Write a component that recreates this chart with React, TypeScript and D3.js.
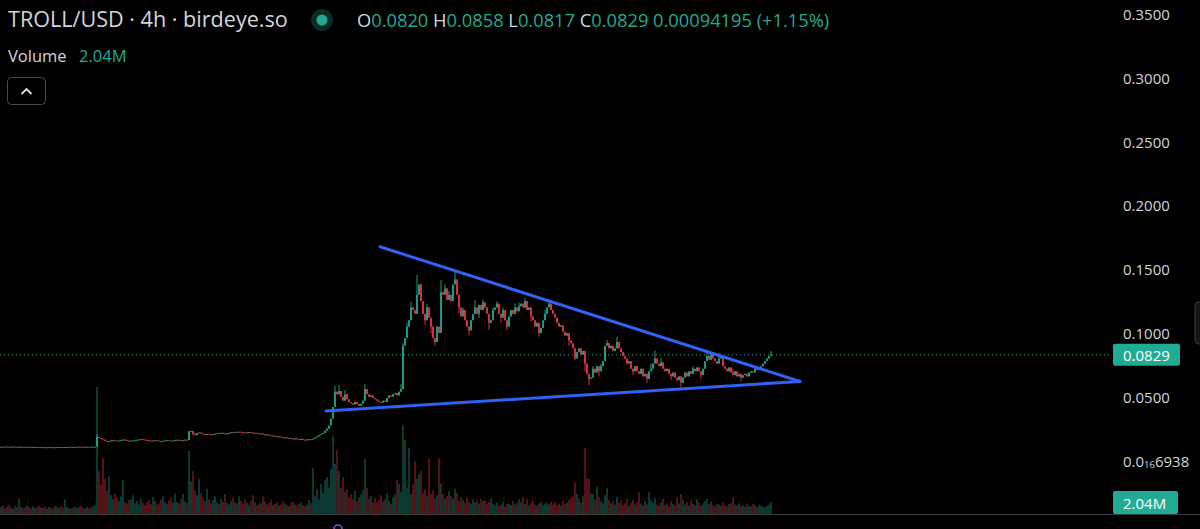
import * as d3 from "d3";

// closing prices, in units of 0.0001 USD, one per 4h candle (oldest first)
const closes = [
  // flat start
  109, 108, 110, 109, 108, 109, 110, 108, 107, 108, 109, 108, 107, 108, 107, 106, 107, 108, 106, 105,
  106, 105, 104, 105, 106, 105, 104, 105, 106, 107, 106, 105, 106, 107, 108, 107, 106, 107, 108, 109,
  108, 107, 108, 109, 108, 107, 108, 110,
  // first step up
  185, 178, 172, 165, 155, 150, 152, 158, 160, 157, 155, 158, 162, 165, 160, 157, 154, 156, 158, 160,
  163, 166, 168, 165, 162, 160, 157, 155, 158, 160, 157, 154, 152, 155, 158, 160, 157, 155, 158, 161,
  163, 160, 158, 161, 164, 162,
  // second step
  228, 232, 210, 200, 215, 220, 212, 208, 205, 210, 206, 203, 208, 212, 215, 212, 218, 214, 210, 215,
  218, 222, 220, 225, 222, 226, 224, 220, 218, 222, 224, 220, 216, 218, 214, 210,
  // drift down
  212, 206, 200, 204, 198, 194, 196, 190, 186, 190, 184, 180, 182, 176, 178, 172, 170, 174, 168, 166,
  170, 164, 162, 166, 168, 165,
  // breakout
  172, 180, 190, 200, 208, 215, 235, 250, 275, 330, 420, 540,
  // base near 0.05
  520, 545, 500, 470, 520, 480, 460, 450, 440, 460, 445, 430, 445, 470, 560, 520, 500, 510, 490, 480,
  470, 460, 455, 470, 460, 490, 510, 500, 520, 530, 510, 540, 560,
  // pump to the top
  900, 960, 1050, 1100, 1200, 1180, 1150, 1300, 1380, 1250, 1150, 1100, 1200, 1120, 1050, 960, 930, 1050, 1000, 1320,
  1300, 1350, 1260, 1300, 1250, 1380, 1420, 1300, 1200, 1130, 1180, 1100, 1050, 1020, 1100, 1150, 1200, 1150, 1220, 1180,
  1240,
  // range at the top
  1200, 1150, 1080, 1100, 1180, 1200, 1230, 1150, 1120, 1180, 1100, 1050, 1130, 1180, 1150, 1200, 1170, 1210, 1230, 1200,
  1250, 1180, 1200, 1130, 1100, 1050, 1080, 1000, 1040, 1100, 1150, 1200, 1230, 1180,
  // slide and consolidation
  1150, 1120, 1080, 1050, 1060, 1010, 980, 1000, 940, 920,
  880, 800, 850, 880, 830, 860, 760, 680, 640, 650,
  720, 690, 740, 700, 740, 780, 900, 920, 880, 900,
  860, 880, 930, 880, 850, 820, 800, 760, 780, 720,
  700, 740, 700, 680, 720, 660, 680, 640, 700, 720,
  760, 800, 760, 740, 770, 720, 700, 720, 680, 660,
  690, 650, 630, 660, 610, 650, 690, 660, 700, 680,
  720, 700, 730, 700, 670, 720, 780, 820, 790, 840,
  800, 780, 760, 800, 820, 740, 720, 700, 730, 690,
  670, 700, 660, 680, 650, 670, 680, 660, 690, 700,
  690, 720, 710, 730, 740, 760, 780, 800, 820, 829,
];
const firstOpen = 108;

// visible wicks: [candle index, price x1e-4]
const wickHighs = [
  [48, 205], [94, 236], [167, 585], [169, 592], [172, 553], [182, 600], [200, 600], [201, 920],
  [203, 1080], [205, 1245], [208, 1455], [210, 1390], [213, 1230], [220, 1415], [222, 1380],
  [224, 1330], [227, 1480], [231, 1200], [237, 1258], [241, 1260], [246, 1200], [248, 1250],
  [251, 1200], [257, 1230], [259, 1240], [262, 1275], [272, 1180], [274, 1250], [296, 740],
  [300, 760], [303, 945], [308, 971], [313, 800], [325, 760], [327, 861], [330, 800], [346, 740],
  [353, 853], [355, 850], [359, 840], [366, 720], [385, 858],
];
const wickLows = [
  [53, 148], [96, 198], [212, 1060], [215, 1000], [217, 900], [229, 1150], [234, 983],
  [239, 1120], [244, 1023], [250, 1080], [253, 1023], [265, 1090], [269, 971], [284, 900],
  [287, 788], [292, 700], [294, 592], [299, 660], [316, 670], [323, 610], [335, 630],
  [340, 574], [350, 640], [370, 620], [385, 817],
];

// volume per candle, millions
const volumes = [
  1.2, 1.5, 1.0, 1.3, 1.6, 1.1, 0.9, 1.4, 1.2, 2.6, 1.3, 1.0, 1.1, 1.5, 1.2, 0.9, 1.3, 1.0, 1.2, 1.4,
  1.1, 1.0, 1.3, 0.9, 1.2, 1.1, 1.0, 1.4, 1.2, 1.0, 1.3, 1.1, 2.5, 1.2, 1.0, 0.9, 1.1, 1.3, 1.0, 1.2,
  1.4, 1.1, 0.9, 1.2, 1.0, 1.1, 1.3, 1.5,
  21.6, 7.3, 5.0, 9.5, 6.0, 4.0, 6.4, 3.2, 2.5, 3.5, 2.8, 2.2, 3.0, 5.8, 2.0, 1.8, 2.4, 2.5, 3.2, 1.8,
  2.2, 1.6, 2.6, 1.9, 1.5, 2.0, 2.4, 1.7, 2.9, 2.2, 1.6, 1.8, 2.5, 3.1, 2.0, 1.7, 2.3, 2.8, 1.9, 3.5,
  2.1, 1.8, 2.6, 3.4, 2.2, 1.9,
  10.7, 5.5, 7.3, 4.0, 3.2, 6.0, 3.5, 2.8, 2.2, 4.3, 2.5, 1.8, 2.4, 3.0, 2.0, 1.7, 2.6, 2.1, 3.4, 1.9,
  1.6, 2.2, 2.8, 2.0, 1.8, 3.0, 2.3, 1.7, 2.5, 1.9, 1.6, 2.2, 3.2, 2.0, 1.5, 1.8,
  1.8, 3.0, 2.2, 1.6, 1.9, 2.4, 1.5, 1.7, 2.0, 1.4, 1.6, 2.2, 1.8, 1.5, 1.3, 1.9, 2.1, 1.6, 1.4, 1.7,
  2.0, 1.5, 1.3, 1.6, 2.4, 1.9,
  7.8, 3.0, 4.2, 2.5, 5.1, 3.6, 5.8, 6.3, 4.5, 7.7, 13.3, 8.5,
  10.9, 7.3, 4.5, 6.3, 3.8, 4.2, 2.8, 3.4, 2.5, 3.9, 2.2, 2.9, 3.3, 4.1, 9.4, 4.4, 2.6, 3.1, 2.0, 2.7,
  1.9, 2.4, 3.2, 2.1, 2.6, 3.5, 2.3, 1.8, 2.8, 3.3, 5.8, 5.1, 3.8,
  15.1, 12.6, 4.5, 11.2, 3.4, 5.0, 9.0, 6.0, 6.8, 7.3, 3.5, 4.2, 3.0, 9.4, 3.4, 4.0, 2.6, 3.2, 9.5, 5.2,
  3.4, 2.6, 3.0, 3.9, 3.1, 2.6, 4.3, 3.6, 2.2, 2.9, 2.4, 1.9, 2.8, 2.1, 1.7, 2.5, 2.0, 2.3, 1.8, 2.6,
  2.2,
  2.4, 1.8, 2.0, 2.6, 1.7, 1.5, 1.9, 1.4, 1.6, 2.1, 1.3, 1.7, 1.8, 1.5, 2.2, 1.6, 1.9, 2.5, 2.0, 2.9,
  1.7, 2.6, 1.5, 1.9, 2.3, 1.6, 1.4, 1.8, 2.0, 1.5, 1.7, 1.9, 1.6, 2.1,
  1.6, 2.0, 1.5, 1.8, 1.4, 2.1, 1.7, 1.9, 2.4, 2.8, 3.0, 5.4, 3.4, 2.6, 2.0, 3.1, 11.2, 6.0, 6.1, 3.5,
  3.4, 2.5, 4.6, 2.9, 2.2, 1.8, 3.2, 4.4, 2.4, 1.8, 2.2, 1.6, 2.9, 1.9, 2.3, 1.5, 1.8, 2.6, 1.4, 1.9,
  2.4, 1.6, 2.0, 3.7, 1.8, 1.5, 2.2, 1.7, 3.7, 2.3, 1.9, 2.7, 1.6, 1.4, 2.0, 2.6, 1.5, 1.8, 1.3, 2.2,
  1.7, 1.5, 2.9, 1.8, 3.4, 2.4, 1.6, 2.0, 1.4, 2.3, 1.7, 1.5, 2.5, 1.9, 1.4, 1.8, 2.2, 2.6, 1.7, 2.1,
  1.5, 1.3, 1.8, 1.6, 1.4, 2.0, 1.5, 1.3, 1.7, 1.9, 2.9, 1.6, 1.4, 1.8, 1.3, 1.5, 1.2, 1.7, 1.4, 1.3,
  1.7, 1.5, 1.2, 1.6, 1.4, 1.3, 1.1, 1.4, 1.6, 2.04,
];

const priceTicks = [0.05, 0.1, 0.15, 0.2, 0.25, 0.3, 0.35];

// drawn trendlines: [candle index, price]
const upperTrend = [[189.5, 0.1676], [399.5, 0.062]];
const lowerTrend = [[162.5, 0.0389], [399.5, 0.062]];

const legendOhlc = [["O", "0.0820"], ["H", "0.0858"], ["L", "0.0817"], ["C", "0.0829"]];
const legendChange = "0.00094195 (+1.15%)";
const lastPrice = 0.0829;
const lastVolume = "2.04M";

const W = 1200;
const H = 529;
const UP = "#22ab94";
const DOWN = "#f23645";
const TEXT = "#d1d4dc";
const FONT = "'Open Sans', 'Noto Sans', sans-serif";

export default function App() {
  const x = d3.scaleLinear().domain([0, closes.length - 1]).range([1, 771]);
  const y = d3.scaleLinear().domain([0, 0.35]).range([460.6, 14]);
  const v = d3.scaleLinear().domain([0, 21.6]).range([514, 387]);

  const hiMap = new Map(wickHighs.map(([i, p]) => [i, p]));
  const loMap = new Map(wickLows.map(([i, p]) => [i, p]));

  const candles = closes.map((c, i) => {
    const o = i === 0 ? firstOpen : closes[i - 1];
    const hi = Math.max(o, c, hiMap.get(i) ?? 0);
    const lo = Math.min(o, c, loMap.get(i) ?? Infinity);
    return { i, o: o / 1e4, c: c / 1e4, h: hi / 1e4, l: lo / 1e4, up: c >= o, vol: volumes[i] ?? 0 };
  });

  const trendLine = d3
    .line<number[]>()
    .x((d) => x(d[0]))
    .y((d) => y(d[1]));

  const bw = 1.6;

  return (
    <svg
      width={W}
      height={H}
      style={{ position: "absolute", left: 0, top: 0, display: "block", background: "#000" }}
    >
      <rect width={W} height={H} fill="#000" />

      {/* volume bars */}
      <g>
        {candles.map((d) => (
          <rect
            key={"v" + d.i}
            x={x(d.i) - bw / 2}
            y={v(d.vol)}
            width={bw}
            height={v(0) - v(d.vol)}
            fill={d.up ? UP : DOWN}
            opacity={0.42}
          />
        ))}
      </g>

      {/* last price dotted line */}
      <line
        x1={0}
        x2={1110}
        y1={y(lastPrice)}
        y2={y(lastPrice)}
        stroke={UP}
        strokeWidth={1}
        strokeDasharray="1 3"
      />

      {/* candles */}
      <g>
        {candles.map((d) => {
          const top = y(Math.max(d.o, d.c));
          const bot = y(Math.min(d.o, d.c));
          const col = d.up ? UP : DOWN;
          return (
            <g key={"c" + d.i}>
              <line x1={x(d.i)} x2={x(d.i)} y1={y(d.h)} y2={y(d.l)} stroke={col} strokeWidth={0.9} />
              <rect x={x(d.i) - bw / 2} y={top} width={bw} height={Math.max(1, bot - top)} fill={col} />
            </g>
          );
        })}
      </g>

      {/* trendlines */}
      <path d={trendLine(upperTrend) ?? ""} stroke="#2f62f5" strokeWidth={3} fill="none" strokeLinecap="round" />
      <path d={trendLine(lowerTrend) ?? ""} stroke="#2f62f5" strokeWidth={3} fill="none" strokeLinecap="round" />

      {/* bottom separator */}
      <line x1={0} x2={W} y1={514.5} y2={514.5} stroke="#3a3d45" strokeWidth={1} />

      {/* event marker */}
      <path d="M334,529 A4,4 0 0 1 342,529" stroke="#9b3fd6" strokeWidth={1.6} fill="none" />

      {/* price axis */}
      <g fontFamily={FONT} fontSize={15} fill={TEXT}>
        {priceTicks.map((t) => (
          <text key={t} x={1123} y={y(t)} dominantBaseline="central">
            {t.toFixed(4)}
          </text>
        ))}
        <text x={1123} y={y(0)} dominantBaseline="central">
          0.0
          <tspan fontSize={9.5} dy={3}>16</tspan>
          <tspan dy={-3}>6938</tspan>
        </text>
      </g>

      {/* last price label */}
      <rect x={1113} y={y(lastPrice) - 11} width={67} height={22} rx={2} fill={UP} />
      <text
        x={1123}
        y={y(lastPrice)}
        dominantBaseline="central"
        fontFamily={FONT}
        fontSize={15}
        fill="#fff"
      >
        {lastPrice.toFixed(4)}
      </text>

      {/* last volume label */}
      <rect x={1113} y={491} width={65} height={23} rx={2} fill={UP} />
      <text x={1123} y={502.5} dominantBaseline="central" fontFamily={FONT} fontSize={15} fill="#fff">
        {lastVolume}
      </text>

      {/* scroll handle at the right edge */}
      <rect x={1195} y={302} width={14} height={42} rx={4} fill="#161616" stroke="#3c3c3c" />

      {/* legend */}
      <g fontFamily={FONT}>
        <text x={8} y={27} fontSize={21.6} fill={TEXT}>
          TROLL/USD · 4h · birdeye.so
        </text>
        <circle cx={322} cy={20} r={11} fill="#0d2a24" />
        <circle cx={322} cy={20} r={5.5} fill={UP} />
        <text x={357} y={27} fontSize={18.3} style={{ whiteSpace: "pre" }}>
          {legendOhlc.map(([k, val], j) => (
            <tspan key={k}>
              <tspan fill={TEXT}>{(j ? " " : "") + k}</tspan>
              <tspan fill={UP}>{val}</tspan>
            </tspan>
          ))}
          <tspan fill={UP}>{" " + legendChange}</tspan>
        </text>
        <text x={8} y={62} fontSize={16.5} fill={TEXT}>
          Volume
        </text>
        <text x={79} y={62} fontSize={16.5} fill={UP}>
          {lastVolume}
        </text>
        <rect x={7.5} y={77.5} width={38} height={27} rx={4} fill="none" stroke="#4a4a4a" />
        <path d="M21.5,94 L26.5,89 L31.5,94" stroke="#e0e0e0" strokeWidth={1.8} fill="none" />
      </g>
    </svg>
  );
}
